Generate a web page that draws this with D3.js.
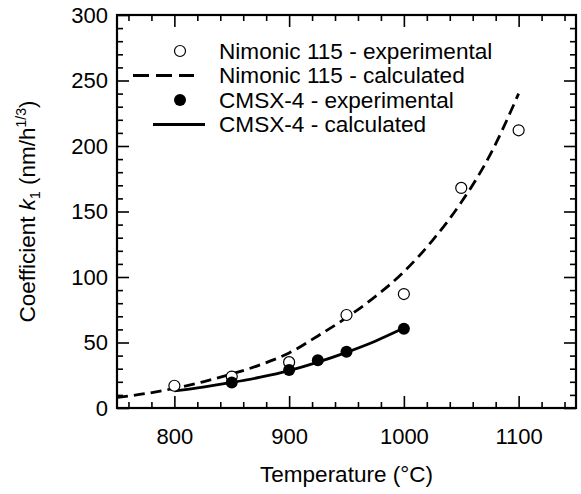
<!DOCTYPE html>
<html lang="en">
<head>
<meta charset="UTF-8">
<title>Coefficient k1 vs temperature</title>
<script src="https://d3js.org/d3.v7.min.js"></script>
<style>
  body { margin: 0; background: #fff; }
  svg { display: block; font-family: "Liberation Sans", Arial, sans-serif; }
  .axis path { display: none; }
  .axis line { stroke: #000; stroke-width: 1.6px; }
  .axis text { font-size: 22px; fill: #000; }
</style>
</head>
<body>
<div id="chart"></div>
<script>
// Nimonic 115 - experimental
const nimTempExp = [800, 850, 900, 950, 1000, 1050, 1100];
const nimK1Exp   = [17, 24, 35, 71, 87, 168, 212];
// Nimonic 115 - calculated
const nimTempCalc = [750, 775, 800, 825, 850, 875, 900, 925, 950, 975, 1000, 1025, 1050, 1075, 1100];
const nimK1Calc   = [8, 11, 15, 20, 26, 33, 42, 55, 69, 85, 104, 128, 157, 193, 240];
// CMSX-4 - experimental
const cmsxTempExp = [850, 900, 925, 950, 1000];
const cmsxK1Exp   = [19.5, 29, 36.5, 43, 60.5];
// CMSX-4 - calculated
const cmsxTempCalc = [800, 825, 850, 875, 900, 925, 950, 975, 1000];
const cmsxK1Calc   = [13, 16, 19.5, 23.5, 28.5, 35, 42.5, 51, 61];

const xTicks = [800, 900, 1000, 1100];
const yTicks = [0, 50, 100, 150, 200, 250, 300];

const width = 581, height = 494;
const margin = { top: 15, right: 5, bottom: 86, left: 117 };

const svg = d3.select("#chart").append("svg")
  .attr("width", width)
  .attr("height", height);

const x = d3.scaleLinear().domain([750, 1150]).range([margin.left, width - margin.right]);
const y = d3.scaleLinear().domain([0, 300]).range([height - margin.bottom, margin.top]);

const x0 = margin.left, x1 = width - margin.right;
const y0 = height - margin.bottom, y1 = margin.top;

// minor ticks (all four sides)
const xMinor = d3.range(760, 1150, 20).filter(v => v % 100 !== 0);
const yMinor = d3.range(10, 300, 10).filter(v => v % 50 !== 0);

svg.append("g").attr("class", "axis").attr("transform", `translate(0,${y0})`)
  .call(d3.axisBottom(x).tickValues(xMinor).tickSize(-6).tickFormat(""));
svg.append("g").attr("class", "axis").attr("transform", `translate(0,${y1})`)
  .call(d3.axisTop(x).tickValues(xMinor).tickSize(-6).tickFormat(""));
svg.append("g").attr("class", "axis").attr("transform", `translate(${x0},0)`)
  .call(d3.axisLeft(y).tickValues(yMinor).tickSize(-6).tickFormat(""));
svg.append("g").attr("class", "axis").attr("transform", `translate(${x1},0)`)
  .call(d3.axisRight(y).tickValues(yMinor).tickSize(-6).tickFormat(""));

// major ticks
svg.append("g").attr("class", "axis").attr("transform", `translate(0,${y0})`)
  .call(d3.axisBottom(x).tickValues(xTicks).tickSize(-12).tickPadding(20).tickFormat(d3.format("d")));
svg.append("g").attr("class", "axis").attr("transform", `translate(0,${y1})`)
  .call(d3.axisTop(x).tickValues(xTicks).tickSize(-12).tickFormat(""));
svg.append("g").attr("class", "axis").attr("transform", `translate(${x0},0)`)
  .call(d3.axisLeft(y).tickValues(yTicks).tickSize(-12).tickPadding(9).tickFormat(d3.format("d")));
svg.append("g").attr("class", "axis").attr("transform", `translate(${x1},0)`)
  .call(d3.axisRight(y).tickValues(yTicks.filter(v => v < 300)).tickSize(-12).tickFormat(""));

// frame
svg.append("rect")
  .attr("x", x0).attr("y", y1)
  .attr("width", x1 - x0).attr("height", y0 - y1)
  .attr("fill", "none").attr("stroke", "#000").attr("stroke-width", 2.2);

// curves
const line = d3.line().x(d => x(d[0])).y(d => y(d[1])).curve(d3.curveMonotoneX);

svg.append("path")
  .datum(d3.zip(nimTempCalc, nimK1Calc))
  .attr("d", line)
  .attr("fill", "none").attr("stroke", "#000")
  .attr("stroke-width", 2.8).attr("stroke-dasharray", "11,6");

svg.append("path")
  .datum(d3.zip(cmsxTempCalc, cmsxK1Calc))
  .attr("d", line)
  .attr("fill", "none").attr("stroke", "#000").attr("stroke-width", 2.8);

// points
svg.append("g").selectAll("circle")
  .data(d3.zip(nimTempExp, nimK1Exp))
  .join("circle")
  .attr("cx", d => x(d[0])).attr("cy", d => y(d[1])).attr("r", 5.5)
  .attr("fill", "#fff").attr("stroke", "#000").attr("stroke-width", 1.2);

svg.append("g").selectAll("circle")
  .data(d3.zip(cmsxTempExp, cmsxK1Exp))
  .join("circle")
  .attr("cx", d => x(d[0])).attr("cy", d => y(d[1])).attr("r", 6)
  .attr("fill", "#000");

// legend
const legendRows = [
  { label: "Nimonic 115 - experimental", type: "open" },
  { label: "Nimonic 115 - calculated", type: "dash" },
  { label: "CMSX-4 - experimental", type: "filled" },
  { label: "CMSX-4 - calculated", type: "solid" }
];
const legend = svg.append("g");
legendRows.forEach((r, i) => {
  const cy = 51 + i * 24.5;
  if (r.type === "open") {
    legend.append("circle").attr("cx", 180).attr("cy", cy).attr("r", 5.5)
      .attr("fill", "#fff").attr("stroke", "#000").attr("stroke-width", 1.2);
  } else if (r.type === "filled") {
    legend.append("circle").attr("cx", 180).attr("cy", cy).attr("r", 6).attr("fill", "#000");
  } else if (r.type === "dash") {
    legend.append("line").attr("x1", 133).attr("x2", 194).attr("y1", cy).attr("y2", cy)
      .attr("stroke", "#000").attr("stroke-width", 2.8).attr("stroke-dasharray", "16,7");
  } else {
    legend.append("line").attr("x1", 153).attr("x2", 205).attr("y1", cy).attr("y2", cy)
      .attr("stroke", "#000").attr("stroke-width", 2.8);
  }
  legend.append("text").attr("x", 219).attr("y", cy + 7.8)
    .attr("font-size", 22.6).text(r.label);
});

// axis titles
svg.append("text")
  .attr("x", (x0 + x1) / 2).attr("y", 482)
  .attr("text-anchor", "middle").attr("font-size", 22.5)
  .text("Temperature (°C)");

const yt = svg.append("text")
  .attr("transform", `translate(35,${(y0 + y1) / 2}) rotate(-90)`)
  .attr("text-anchor", "middle").attr("font-size", 22.5);
yt.append("tspan").text("Coefficient ");
yt.append("tspan").attr("font-style", "italic").text("k");
yt.append("tspan").attr("font-size", 14).attr("dy", 5).text("1");
yt.append("tspan").attr("dy", -5).text(" (nm/h");
yt.append("tspan").attr("font-size", 14).attr("dy", -9).text("1/3");
yt.append("tspan").attr("dy", 9).text(")");
</script>
</body>
</html>
